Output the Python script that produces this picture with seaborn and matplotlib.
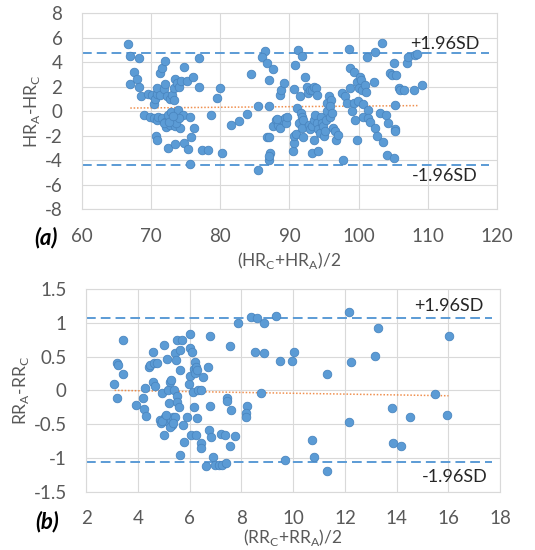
import numpy as np
import pandas as pd
import seaborn as sns
import matplotlib
matplotlib.use("Agg")
import matplotlib.pyplot as plt

# ---------------- data: panel (a) ----------------
hr_mean = [66.6, 67.0, 68.2, 67.6, 66.9, 68.0, 68.2, 68.6, 69.0, 69.6, 70.1, 70.4, 70.6, 70.9, 70.8,
           69.8, 70.4, 70.8, 71.0, 70.7, 70.8, 71.3, 71.6, 72.0, 71.3, 71.8, 72.0, 72.3, 72.8, 73.0,
           71.6, 72.0, 72.2, 72.5, 72.9, 73.0, 72.8, 71.8, 72.4, 73.3, 73.4, 73.3, 73.7, 74.1, 74.3,
           73.9, 73.5, 74.2, 73.5, 74.7, 74.6, 74.7, 75.2, 75.7, 75.8, 75.3, 75.7, 76.1, 76.2, 77.0,
           77.0, 77.3, 78.3, 78.6, 79.6, 79.9, 80.2, 73.6, 74.0, 72.6, 73.2,
           81.5, 82.7, 83.9, 84.4, 85.4, 85.5,
           86.4, 86.1, 86.7, 87.6, 87.1, 88.6, 88.8, 89.2, 87.1, 86.7, 87.1, 87.2, 87.0, 87.1, 87.6,
           88.0, 88.3, 88.7, 89.0, 89.4, 89.5, 89.7, 88.2, 90.5, 90.6, 90.7, 91.0, 90.8, 91.3, 91.8,
           90.7, 91.1, 91.5, 91.7, 91.8, 91.4, 91.8, 92.0, 91.9, 92.3, 92.5, 92.7, 93.0, 93.3, 93.6,
           93.9, 94.0, 92.8, 93.0, 93.3, 93.5, 93.7, 94.0, 94.2, 94.4, 93.5, 93.3, 94.2, 94.5, 94.7,
           94.9, 95.0, 95.2, 95.3, 95.4, 95.5, 95.7, 96.0, 95.8, 95.9, 96.1, 96.3, 96.6, 96.8, 97.0,
           97.8, 97.6, 98.1, 98.3, 98.6, 98.7, 98.8, 99.0, 99.3, 99.4, 99.5, 99.7, 99.8, 99.9, 100.1,
           100.2, 100.3, 100.5, 100.6, 100.7, 100.9, 101.1, 101.2, 101.3, 101.4, 101.7, 102.2, 102.3,
           102.4, 102.7, 103.1, 103.4, 103.5, 103.9, 104.1, 104.3, 104.5, 104.8, 105.1, 105.1, 105.2,
           105.3, 105.4, 105.8, 106.0, 106.5, 107.0, 107.2, 108.0, 108.2, 108.4, 109.1, 105.2]
hr_diff = [5.5, 4.5, 4.3, 3.2, 2.2, 2.6, 2.0, 1.2, -0.35, 1.4, 1.3, 0.6, 1.0, 1.4, 1.9,
           -0.5, -0.55, -0.7, -0.5, -2.0, -2.4, 3.1, 3.5, 4.1, 1.3, 1.8, 2.2, 1.2, 1.0, 1.3,
           -0.6, -0.85, -1.3, -0.3, -0.1, -0.7, -1.1, -1.0, -3.0, 1.9, 2.6, 0.9, 2.3, 2.0, 2.5,
           0.1, -1.2, -1.4, -2.7, 3.6, -0.3, -2.6, 2.5, -0.45, -2.1, -3.1, -4.3, 2.8, -1.4, 4.35,
           2.0, -3.2, -3.2, -0.3, 1.1, 1.9, -3.4, -1.0, -0.6, -0.9, -0.4,
           -1.1, -0.8, -0.2, 3.0, 0.45, -4.8,
           4.95, 4.4, 3.9, 3.4, 2.55, 1.3, 1.75, 2.3, 0.4, -2.1, -2.1, -3.4, -4.0, -3.7, -1.25,
           -0.7, -1.1, -1.4, -0.7, -0.6, -1.0, -0.45, -0.65, -3.3, -2.6, -2.0, -1.85, 3.8, 5.0, 4.5,
           1.8, 0.25, 1.2, -0.15, -0.45, -1.0, -1.4, -0.7, -2.1, 2.8, 2.0, 1.5, 1.75, 1.7, 2.0,
           1.9, 1.3, -1.1, -1.5, -1.25, -0.7, -0.3, -1.0, -1.5, -1.8, -2.35, -3.4, -3.3, -0.45, -1.0,
           -1.25, -2.05, -1.65, -0.7, 0.0, 0.65, 1.2, 0.9, 0.4, -0.45, -0.15, -1.4, -1.65, -2.35, -1.95,
           -4.0, 1.45, 1.2, 0.65, 5.05, 3.5, 1.9, 0.0, 0.65, 3.2, -0.7, 2.4, -2.35, 0.8, 1.9,
           2.8, 2.55, 1.75, 0.6, -0.45, 2.15, 1.6, 4.45, 0.1, -0.6, -0.85, 2.4, -1.4,
           4.85, -2.05, -0.15, 5.55, -2.5, -0.3, -3.55, -1.0, 3.15, 2.95, -3.85, 3.9, -1.5,
           0.5, 2.95, 1.9, 1.75, 1.75, 3.9, 4.4, 1.75, 4.6, 4.7, 2.15, -1.65]
hr_trend_x = [67.0, 108.5]
hr_trend_y = [0.25, 0.45]
hr_limits = [4.71, -4.38]

# ---------------- data: panel (b) ----------------
rr_mean = [3.06, 3.19, 3.21, 3.25, 3.44, 3.44, 3.93, 4.19, 4.24, 4.28, 4.31, 4.41, 4.47, 4.58, 4.60,
           4.64, 4.73, 4.67, 4.84, 4.89, 4.93, 4.99, 5.02, 5.05, 5.12, 5.14, 5.18, 5.22, 5.25, 5.27,
           5.27, 5.31, 5.35, 5.40, 5.44, 5.48, 5.51, 5.51, 5.53, 5.57, 5.61, 5.61, 5.63, 5.70, 5.74,
           5.79, 5.89, 5.96, 6.00, 6.02, 6.02, 6.05, 6.09, 6.11, 6.15, 6.18, 6.19, 6.21, 6.23, 6.25,
           6.28, 6.30, 6.34, 6.43, 6.45, 6.45, 6.51, 6.63, 6.69, 6.73, 6.77, 6.79, 6.82, 6.92, 6.99,
           7.12, 7.21, 7.24, 7.37, 7.40, 7.44, 7.46, 7.54, 7.57, 7.61, 7.76, 7.85, 8.21, 8.19, 8.19,
           8.37, 8.60, 8.53, 8.75, 8.88, 8.89, 9.35, 9.50, 9.69, 9.95, 10.04, 10.72, 10.81, 11.30,
           11.30, 12.14, 12.14, 12.23, 13.17, 13.28, 13.82, 13.85, 14.18, 14.53, 15.47, 15.94, 16.03,
           5.44, 5.25, 4.95, 5.10, 5.35]
rr_diff = [0.09, -0.12, 0.41, 0.38, 0.75, 0.24, -0.22, -0.12, -0.27, 0.03, -0.38, 0.34, 0.37, 0.13, 0.57,
           0.40, 0.41, 0.06, -0.44, -0.49, -0.04, -0.66, 0.67, -0.39, -0.46, 0.47, 0.0, -0.19, 0.13, 0.15,
           -0.44, -0.51, -0.39, 0.0, 0.56, 0.45, 0.74, -0.09, -0.17, -0.24, 0.60, 0.30, -0.96, 0.74, -0.51,
           -0.76, -0.39, 0.10, 0.84, 0.62, 0.21, -0.66, 0.57, -0.02, 0.31, -0.24, 0.25, 0.42, 0.34, -0.66,
           0.30, -0.41, 0.0, 0.0, -0.78, -0.86, 0.20, -1.12, 0.34, -0.58, -0.23, 0.81, -0.69, -0.99, -1.10,
           -1.10, -0.64, -1.10, -0.66, -1.07, -0.12, -0.16, -0.83, 0.66, -0.29, -0.67, 0.99, -0.23, -0.34, -0.39,
           1.08, 1.07, 0.57, -0.04, 0.99, 0.55, 1.10, 0.44, -1.03, 0.44, 0.57, -0.74, -0.98, 0.24,
           -1.20, 1.16, -0.47, 0.42, 0.51, 0.92, -0.26, -0.78, -0.83, -0.40, -0.06, -0.37, 0.81,
           -0.39, -0.54, -0.45, -0.36, -0.48]
rr_trend_x = [3.1, 16.0]
rr_trend_y = [0.0, -0.08]
rr_limits = [1.075, -1.06]

df_a = pd.DataFrame({"x": hr_mean, "y": hr_diff})
df_b = pd.DataFrame({"x": rr_mean, "y": rr_diff})

sns.set_theme(style="white")
plt.rcParams["font.family"] = ["Lato", "DejaVu Sans"]
plt.rcParams["mathtext.fontset"] = "custom"
plt.rcParams["mathtext.rm"] = "Lato"

fig = plt.figure(figsize=(5.35, 5.5), dpi=100)
ax1 = fig.add_axes([0.153, 0.62, 0.776, 0.356])
ax2 = fig.add_axes([0.161, 0.106, 0.774, 0.3685])

blue = "#5B9BD5"
grid_c = "#D9D9D9"
tick_c = "#595959"

def style(ax, xlim, ylim, xticks, yticks, xlabel, ylabel, limits, tx, ty, sd_x, sd_dy, xpad, xlpad):
    ax.set_xlim(*xlim)
    ax.set_ylim(*ylim)
    ax.set_xticks(xticks)
    ax.set_yticks(yticks)
    ax.grid(True, color=grid_c, linewidth=0.8)
    ax.set_axisbelow(True)
    for s in ax.spines.values():
        s.set_color(grid_c)
        s.set_linewidth(0.8)
    ax.tick_params(axis="both", colors=tick_c, labelsize=13.5, length=0)
    ax.tick_params(axis="y", pad=14)
    ax.tick_params(axis="x", pad=xpad)
    ax.set_xlabel(xlabel, color=tick_c, fontsize=12.5, labelpad=xlpad)
    ax.set_ylabel(ylabel, color=tick_c, fontsize=12.5, labelpad=2)
    x_end = xlim[0] + (xlim[1] - xlim[0]) * 0.98
    for v in limits:
        ax.hlines(v, xlim[0], x_end, colors=blue, linestyles=(0, (5, 2.6)), linewidth=1.4, zorder=1)
    ax.plot(tx, ty, linestyle=(0, (1, 1.2)), color="#ED7D31", linewidth=1.1, alpha=0.85, zorder=1)
    ax.text(sd_x[0], limits[0] + sd_dy[0], "+1.96SD", fontsize=13, color="#262626", ha="center", va="bottom")
    ax.text(sd_x[1], limits[1] - sd_dy[1], "-1.96SD", fontsize=13, color="#262626", ha="center", va="top")

sns.scatterplot(data=df_a, x="x", y="y", ax=ax1, color=blue, s=38, edgecolor="#4A86C0",
                linewidth=0.6, zorder=3)
style(ax1, (60, 120), (-8, 8), range(60, 121, 10), range(-8, 9, 2),
      r"(HR$_\mathregular{C}$+HR$_\mathregular{A}$)/2", r"HR$_\mathregular{A}$-HR$_\mathregular{C}$",
      hr_limits, hr_trend_x, hr_trend_y, (112.5, 112.5), (0.1, 0.3), 14, 3)
ax1.set_yticklabels([str(v) for v in range(-8, 9, 2)])

sns.scatterplot(data=df_b, x="x", y="y", ax=ax2, color=blue, s=38, edgecolor="#4A86C0",
                linewidth=0.6, zorder=3)
style(ax2, (2, 18), (-1.5, 1.5), range(2, 19, 2), np.arange(-1.5, 1.51, 0.5),
      r"(RR$_\mathregular{C}$+RR$_\mathregular{A}$)/2", r"RR$_\mathregular{A}$-RR$_\mathregular{C}$",
      rr_limits, rr_trend_x, rr_trend_y, (16.0, 16.25), (0.05, 0.1), 13, 0)
ax2.set_yticklabels(["-1.5", "-1", "-0.5", "0", "0.5", "1", "1.5"])

fig.text(0.085, 0.568, "(a)", fontsize=16, fontweight="bold", fontstyle="italic", color="black",
         ha="center", va="center")
fig.text(0.088, 0.052, "(b)", fontsize=16, fontweight="bold", fontstyle="italic", color="black",
         ha="center", va="center")

fig.savefig("out.png", dpi=100)
